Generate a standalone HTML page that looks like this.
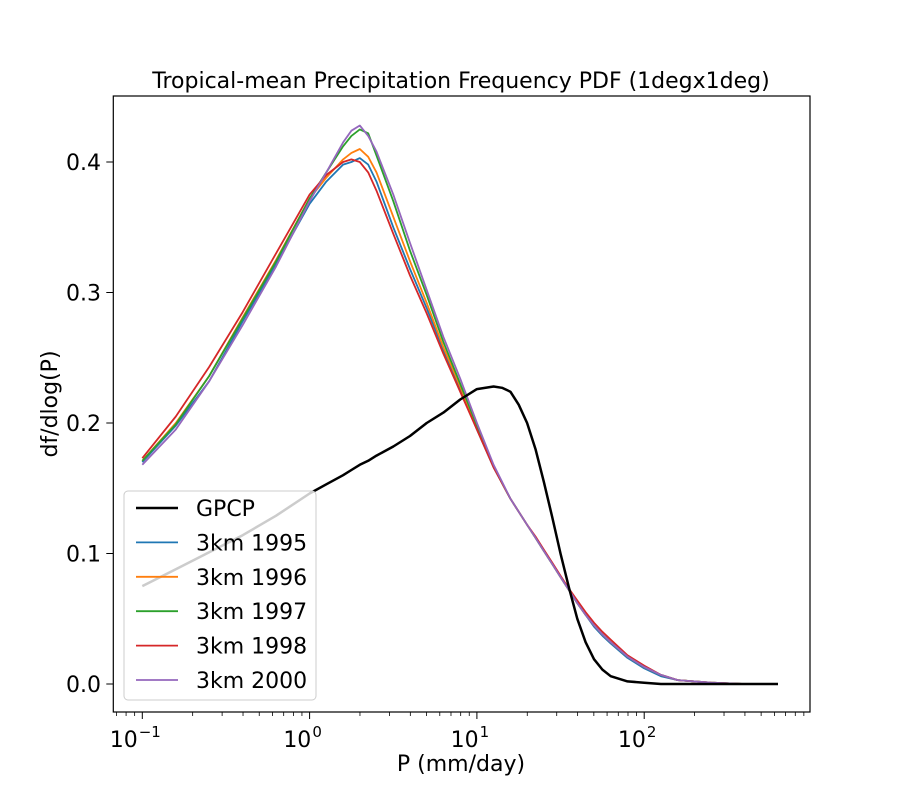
<!DOCTYPE html>
<html><head><meta charset="utf-8"><style>
body{margin:0;background:#fff;}
svg text{font-family:"DejaVu Sans","Liberation Sans",sans-serif;fill:#000;}
</style></head><body>
<svg id="chart" width="900" height="800" xmlns="http://www.w3.org/2000/svg">
<rect width="900" height="800" fill="#fff"/>
<text x="461" y="88" font-size="22" text-anchor="middle">Tropical-mean Precipitation Frequency PDF (1degx1deg)</text>
<g id="axes"></g>
<g id="series"></g>
<g id="legend"></g>
<text x="461" y="771" font-size="22" text-anchor="middle">P (mm/day)</text>
<text transform="translate(57,404) rotate(-90)" font-size="22" text-anchor="middle">df/dlog(P)</text>
<rect x="113.3" y="96" width="696.7" height="616" fill="none" stroke="#000" stroke-width="1.2"/>
</svg>
<script>
const logP=[-1,-0.8,-0.6,-0.4,-0.2,0,0.1,0.2,0.25,0.3,0.35,0.4,0.5,0.6,0.7,0.8,0.9,1.0,1.1,1.15,1.2,1.25,1.3,1.35,1.4,1.45,1.5,1.55,1.6,1.65,1.7,1.75,1.8,1.9,2.0,2.1,2.2,2.4,2.6,2.8];
const gpcp=[.075,.088,.101,.114,.129,.146,.153,.160,.164,.168,.171,.175,.182,.190,.200,.208,.218,.226,.228,.227,.224,.214,.200,.180,.155,.128,.100,.074,.050,.032,.019,.011,.006,.002,.001,0,0,0,0,0];
const km1995=[.170,.198,.232,.278,.322,.368,.385,.398,.400,.403,.398,.385,.350,.318,.288,.256,.226,.195,.166,.154,.142,.132,.122,.112,.102,.092,.082,.072,.062,.053,.044,.037,.031,.020,.012,.006,.003,.001,0,0];
const km1996=[.171,.200,.236,.281,.325,.372,.388,.402,.407,.410,.404,.392,.358,.324,.292,.258,.228,.197,.167,.154,.142,.132,.122,.112,.102,.092,.082,.072,.062,.053,.045,.038,.032,.021,.013,.007,.003,.001,0,0];
const km1997=[.171,.199,.236,.280,.324,.372,.392,.412,.420,.425,.422,.405,.370,.332,.298,.262,.230,.198,.167,.154,.142,.132,.122,.112,.102,.092,.082,.072,.062,.053,.045,.038,.032,.021,.013,.007,.003,.001,0,0];
const km1998=[.173,.205,.243,.285,.330,.375,.390,.400,.402,.400,.392,.378,.345,.313,.284,.253,.224,.195,.166,.154,.142,.132,.122,.113,.103,.093,.083,.073,.064,.055,.047,.040,.034,.022,.014,.007,.003,.001,0,0];
const km2000=[.168,.195,.232,.275,.320,.370,.392,.415,.424,.428,.420,.408,.375,.338,.302,.266,.234,.200,.168,.155,.142,.132,.122,.112,.102,.092,.082,.072,.062,.053,.045,.038,.032,.021,.013,.007,.003,.001,0,0];
const yTicks=[0,0.1,0.2,0.3,0.4];
const xDecades=[-1,0,1,2];
const seriesNames=["GPCP","3km 1995","3km 1996","3km 1997","3km 1998","3km 2000"];
const NS="http://www.w3.org/2000/svg";
function xs(l){return 142.3+(l+1)*167.3;}
function ys(v){return 684-v*1305;}
function mk(t,a,p){const e=document.createElementNS(NS,t);for(const k in a)e.setAttribute(k,a[k]);p.appendChild(e);return e;}
const axes=document.getElementById('axes');
yTicks.forEach(v=>{
  const t=mk('line',{x1:106.3,x2:113.3,y1:ys(v),y2:ys(v),stroke:'#000','stroke-width':1},axes);
  
  
  const l=mk('text',{x:101,y:ys(v)+8,'font-size':22,'text-anchor':'end'},axes);
  l.textContent=v.toFixed(1);
  
  
});
for(let d=-2;d<=2;d++){for(let m=2;m<=9;m++){const x=xs(d+Math.log10(m));if(x<113.3||x>810)continue;
  const t=mk('line',{x1:x,x2:x,y1:712,y2:716,stroke:'#000','stroke-width':0.8},axes);
  
  }}
xDecades.forEach(d=>{
  const x=xs(d);
  const t=mk('line',{x1:x,x2:x,y1:712,y2:719,stroke:'#000','stroke-width':1},axes);
  
  
  const l=mk('text',{x:x-7,y:747,'font-size':22,'text-anchor':'middle'},axes);
  
  
  l.textContent='10';
  const s=mk('tspan',{dx:1,dy:-10,'font-size':15},l);s.textContent=String(d).replace('-','\u2212');
});
const data=[gpcp,km1995,km1996,km1997,km1998,km2000];
const colors=['#000','#1f77b4','#ff7f0e','#2ca02c','#d62728','#9467bd'];
const widths=[2.5,1.8,1.8,1.8,1.8,1.8];
const sg=document.getElementById('series');
[1,2,3,4,5,0].forEach(i=>{
  const pts=logP.map((l,j)=>xs(l).toFixed(1)+','+ys(data[i][j]).toFixed(1)).join(' ');
  const p=mk('polyline',{points:pts,fill:'none',stroke:colors[i],'stroke-width':widths[i],'stroke-linejoin':'round'},sg);
  
  
});
const lg=document.getElementById('legend');
const box=mk('rect',{x:124,y:491,width:192,height:209,rx:4,fill:'rgba(255,255,255,0.8)',stroke:'#ccc','stroke-width':1},lg);


seriesNames.forEach((n,i)=>{
  const y=508+i*34.4;
  const ln=mk('line',{x1:136,x2:178,y1:y,y2:y,stroke:colors[i],'stroke-width':widths[i]},lg);
  
  
  const t=mk('text',{x:196,y:y+8,'font-size':22},lg);
  t.textContent=n;
  
  
});
</script>
</body></html>
